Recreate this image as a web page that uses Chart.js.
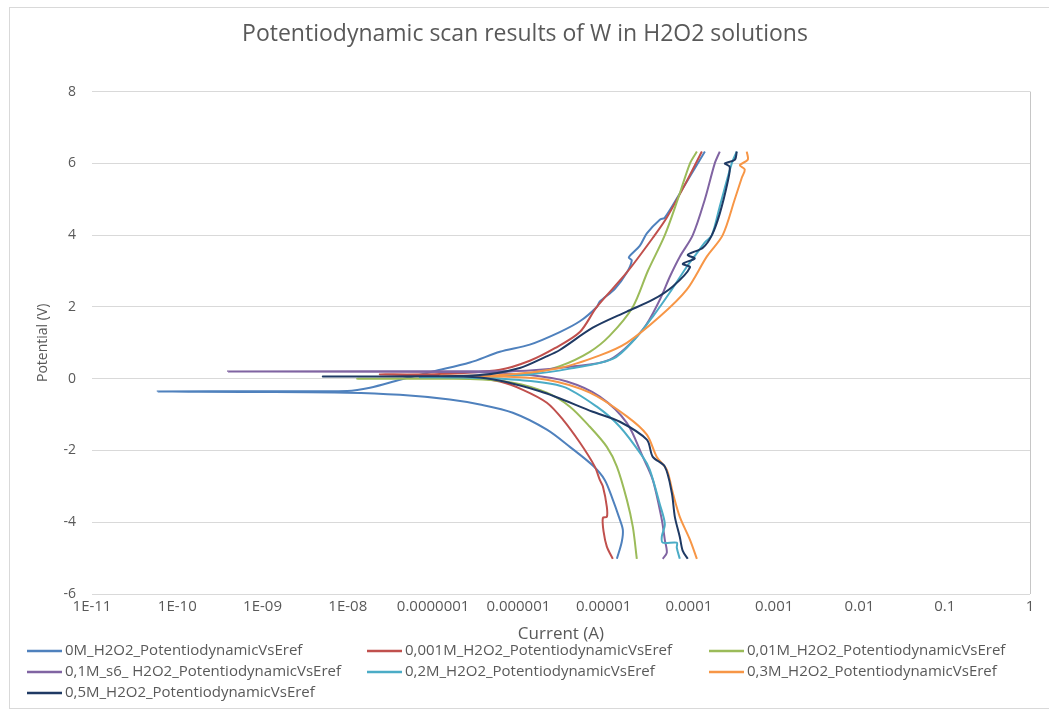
<!DOCTYPE html>
<html>
<head>
<meta charset="utf-8">
<title>Potentiodynamic scan</title>
<script src="https://cdn.jsdelivr.net/npm/chart.js@4.4.1/dist/chart.umd.min.js"></script>
<style>
  html, body { margin: 0; padding: 0; background: #fff; }
  #wrap { width: 1049px; height: 718px; position: relative; }
</style>
</head>
<body>
<div id="wrap"><canvas id="scan"></canvas></div>
<script>
// x ticks (decades) and how they are printed on the axis
const tickValues = [1e-11, 1e-10, 1e-9, 1e-8, 1e-7, 1e-6, 1e-5, 1e-4, 1e-3, 1e-2, 0.1, 1];
const tickLabels = ['1E-11', '1E-10', '1E-09', '1E-08', '0.0000001', '0.000001', '0.00001', '0.0001', '0.001', '0.01', '0.1', '1'];

const seriesNames = [
  '0M_H2O2_PotentiodynamicVsEref',
  '0,001M_H2O2_PotentiodynamicVsEref',
  '0,01M_H2O2_PotentiodynamicVsEref',
  '0,1M_s6_ H2O2_PotentiodynamicVsEref',
  '0,2M_H2O2_PotentiodynamicVsEref',
  '0,3M_H2O2_PotentiodynamicVsEref',
  '0,5M_H2O2_PotentiodynamicVsEref'
];
const seriesColors = ['#4F81BD', '#C0504D', '#9BBB59', '#8064A2', '#4BACC6', '#F79646', '#1F3A64'];

// each scan: cathodic branch from -5 V, dip at Ecorr, anodic branch up to 6.3 V
const current0M = [1.43e-5, 1.63e-5, 1.68e-5, 1.51e-5, 1.28e-5, 1.03e-5, 7.46e-6, 4.02e-6, 2.16e-6, 8.6e-7, 3.54e-7, 1.57e-7, 4.08e-8, 9.8e-9, 7.1e-10, 5.9e-11, 7.1e-10, 9.8e-9, 1.82e-8, 4.08e-8, 9.95e-8, 2.7e-7, 6.07e-7, 1.36e-6, 3.06e-6, 5.26e-6, 8.32e-6, 9.02e-6, 1.35e-5, 1.87e-5, 2.14e-5, 1.97e-5, 2.65e-5, 3.21e-5, 4.56e-5, 5.22e-5, 8.95e-5, 1.54e-4];
const potential0M = [-5.02, -4.55, -4.21, -3.85, -3.37, -2.82, -2.42, -1.9, -1.42, -0.95, -0.72, -0.58, -0.45, -0.39, -0.37, -0.36, -0.35, -0.34, -0.25, -0.03, 0.2, 0.45, 0.75, 0.95, 1.3, 1.6, 2.0, 2.15, 2.5, 2.96, 3.3, 3.38, 3.7, 4.05, 4.43, 4.49, 5.4, 6.33];

const current0001M = [1.28e-5, 1.09e-5, 1.0e-5, 9.79e-6, 1.09e-5, 1.09e-5, 9.79e-6, 9.02e-6, 7.88e-6, 5.26e-6, 3.33e-6, 2.16e-6, 1.13e-6, 6.07e-7, 2.7e-7, 7.0e-8, 2.38e-8, 1.2e-7, 6.07e-7, 1.36e-6, 2.68e-6, 5.26e-6, 8.32e-6, 1.87e-5, 3.98e-5, 5.51e-5, 8.95e-5, 1.42e-4];
const potential0001M = [-5.02, -4.68, -4.27, -3.88, -3.85, -3.57, -3.0, -2.82, -2.45, -1.78, -1.14, -0.67, -0.31, -0.08, 0.05, 0.1, 0.12, 0.13, 0.25, 0.5, 0.85, 1.3, 2.0, 2.96, 4.0, 4.49, 5.4, 6.33];

const current001M = [2.45e-5, 2.2e-5, 1.87e-5, 1.43e-5, 1.09e-5, 6.89e-6, 4.02e-6, 2.16e-6, 8.6e-7, 2.7e-7, 1.28e-8, 2.7e-7, 1.36e-6, 3.06e-6, 6.89e-6, 1.18e-5, 2.2e-5, 3.3e-5, 5.22e-5, 7.41e-5, 1.03e-4, 1.24e-4];
const potential001M = [-5.02, -4.13, -3.37, -2.45, -1.9, -1.34, -0.78, -0.39, -0.11, -0.01, 0.0, 0.02, 0.15, 0.35, 0.75, 1.2, 2.0, 3.0, 4.0, 5.0, 6.0, 6.33];

const current01M = [4.94e-5, 5.51e-5, 5.22e-5, 4.81e-5, 3.77e-5, 2.88e-5, 1.87e-5, 9.02e-6, 3.71e-6, 1.36e-6, 3.54e-7, 3.93e-10, 3.54e-7, 1.36e-6, 4.02e-6, 1.18e-5, 2.88e-5, 4.56e-5, 5.97e-5, 7.82e-5, 1.11e-4, 1.54e-4, 2.01e-4, 2.3e-4];
const potential01M = [-5.02, -4.85, -4.49, -3.93, -2.82, -2.18, -1.23, -0.5, -0.08, 0.1, 0.18, 0.2, 0.21, 0.23, 0.33, 0.53, 1.37, 2.2, 2.84, 3.4, 4.0, 5.0, 6.0, 6.33];

const current02M = [7.82e-5, 7.21e-5, 7.21e-5, 4.94e-5, 4.81e-5, 5.22e-5, 4.56e-5, 3.48e-5, 2.88e-5, 1.55e-5, 8.32e-6, 3.33e-6, 1.04e-6, 2.06e-7, 7.0e-8, 3.54e-7, 1.36e-6, 4.02e-6, 1.28e-5, 2.32e-5, 3.77e-5, 5.97e-5, 9.44e-5, 1.24e-4, 1.54e-4, 1.86e-4, 2.3e-4, 3.18e-4, 3.64e-4];
const potential02M = [-5.02, -4.71, -4.57, -4.57, -4.4, -4.05, -3.5, -2.54, -2.18, -1.34, -0.78, -0.22, -0.04, 0.03, 0.04, 0.06, 0.12, 0.28, 0.55, 1.1, 1.73, 2.4, 3.12, 3.5, 3.8, 4.0, 4.8, 6.0, 6.33];

const current03M = [1.24e-4, 1.03e-4, 7.82e-5, 6.47e-5, 5.51e-5, 4.2e-5, 3.21e-5, 1.87e-5, 6.89e-6, 2.16e-6, 6.07e-7, 1.2e-7, 6.07e-7, 3.06e-6, 9.02e-6, 1.87e-5, 4.56e-5, 9.44e-5, 1.62e-4, 2.49e-4, 3.45e-4, 4.17e-4, 4.52e-4, 3.95e-4, 4.9e-4, 4.77e-4];
const potential03M = [-5.02, -4.49, -3.85, -3.18, -2.54, -2.18, -1.56, -1.05, -0.39, -0.03, 0.06, 0.08, 0.1, 0.3, 0.65, 1.0, 1.73, 2.48, 3.4, 4.0, 5.0, 5.6, 5.83, 5.95, 6.1, 6.33];

const current05M = [9.7e-5, 8.47e-5, 7.82e-5, 6.84e-5, 6.3e-5, 5.22e-5, 3.77e-5, 3.21e-5, 1.55e-5, 7.46e-6, 1.79e-6, 3.54e-7, 4.08e-8, 5.1e-9, 7.0e-8, 3.54e-7, 1.04e-6, 2.05e-6, 3.06e-6, 7.46e-6, 1.87e-5, 3.77e-5, 6.47e-5, 1.03e-4, 8.47e-5, 1.17e-4, 9.7e-5, 1.46e-4, 1.86e-4, 2.3e-4, 2.86e-4, 3.01e-4, 2.64e-4, 3.45e-4, 3.64e-4];
const potential05M = [-5.02, -4.8, -4.41, -3.85, -3.18, -2.45, -2.18, -1.7, -1.2, -0.92, -0.35, 0.03, 0.06, 0.06, 0.07, 0.1, 0.3, 0.6, 0.8, 1.42, 1.87, 2.2, 2.57, 3.1, 3.2, 3.35, 3.45, 3.65, 4.0, 4.6, 5.5, 5.9, 6.0, 6.1, 6.33];

const scans = [
  [current0M, potential0M],
  [current0001M, potential0001M],
  [current001M, potential001M],
  [current01M, potential01M],
  [current02M, potential02M],
  [current03M, potential03M],
  [current05M, potential05M]
];

const textColor = '#595959';
const baseFont = '"Open Sans", "DejaVu Sans", sans-serif';

// white background, outer frame and the right-hand axis line
const chartFrame = {
  id: 'chartFrame',
  beforeDraw(chart) {
    const { ctx } = chart;
    ctx.save();
    ctx.fillStyle = '#fff';
    ctx.fillRect(0, 0, chart.width, chart.height);
    ctx.strokeStyle = '#d9d9d9';
    ctx.lineWidth = 1;
    ctx.strokeRect(9.5, 7.5, 1060, 701);
    ctx.restore();
  },
  afterDatasetsDraw(chart) {
    const { ctx, chartArea } = chart;
    const x = Math.round(chartArea.right) + 0.5;
    ctx.save();
    ctx.strokeStyle = '#c6c6c6';
    ctx.lineWidth = 1;
    ctx.beginPath();
    ctx.moveTo(x, chartArea.top);
    ctx.lineTo(x, chartArea.bottom);
    ctx.stroke();
    ctx.restore();
  }
};

// legend laid out in three fixed columns, like the spreadsheet one
const gridLegend = {
  id: 'gridLegend',
  afterDraw(chart) {
    const ctx = chart.ctx;
    const cols = [27, 367, 709];
    const rows = [651, 672, 693];
    ctx.save();
    ctx.font = '15px ' + baseFont;
    ctx.fillStyle = textColor;
    ctx.textBaseline = 'middle';
    seriesNames.forEach((name, i) => {
      const x = cols[i % 3];
      const y = rows[Math.floor(i / 3)];
      ctx.strokeStyle = seriesColors[i];
      ctx.lineWidth = 2.5;
      ctx.beginPath();
      ctx.moveTo(x, y);
      ctx.lineTo(x + 35, y);
      ctx.stroke();
      ctx.fillText(name, x + 38, y);
    });
    ctx.restore();
  }
};

const datasets = scans.map(([amps, volts], i) => ({
  label: seriesNames[i],
  data: amps.map((a, k) => ({ x: a, y: volts[k] })),
  borderColor: seriesColors[i],
  backgroundColor: seriesColors[i],
  borderWidth: 2,
  pointRadius: 0,
  showLine: true,
  tension: 0.3,
  order: scans.length - i
}));

new Chart(document.getElementById('scan'), {
  type: 'scatter',
  data: { datasets },
  plugins: [chartFrame, gridLegend],
  options: {
    responsive: true,
    maintainAspectRatio: false,
    animation: false,
    layout: { padding: { left: 20, right: 19, top: 0, bottom: 70 } },
    plugins: {
      legend: { display: false },
      tooltip: { enabled: false },
      title: {
        display: true,
        text: 'Potentiodynamic scan results of W in H2O2 solutions',
        color: textColor,
        font: { family: baseFont, size: 23, weight: 'normal' },
        padding: { top: 21, bottom: 43 }
      }
    },
    scales: {
      x: {
        type: 'logarithmic',
        min: 1e-11,
        max: 1,
        afterBuildTicks: (scale) => {
          scale.ticks = tickValues.map(v => ({ value: v }));
        },
        afterFit: (scale) => { scale.height = 54; },
        grid: { display: false, drawTicks: false },
        border: { display: false },
        ticks: {
          autoSkip: false,
          maxRotation: 0,
          padding: 4,
          color: textColor,
          font: { family: baseFont, size: 15 },
          callback: (value, index) => tickLabels[index]
        },
        title: {
          display: true,
          text: 'Current (A)',
          color: textColor,
          font: { family: baseFont, size: 17 },
          padding: { top: 0, bottom: 4 }
        }
      },
      y: {
        min: -6,
        max: 8,
        afterFit: (scale) => { scale.width = 72; },
        grid: { color: '#d9d9d9', lineWidth: 1, drawTicks: false },
        border: { display: false },
        ticks: {
          stepSize: 2,
          padding: 16,
          color: textColor,
          font: { family: baseFont, size: 14 }
        },
        title: {
          display: true,
          text: 'Potential (V)',
          color: textColor,
          font: { family: '"Liberation Sans Narrow", "Open Sans", sans-serif', size: 14 },
          padding: { top: 15, bottom: 0 }
        }
      }
    }
  }
});
</script>
</body>
</html>
